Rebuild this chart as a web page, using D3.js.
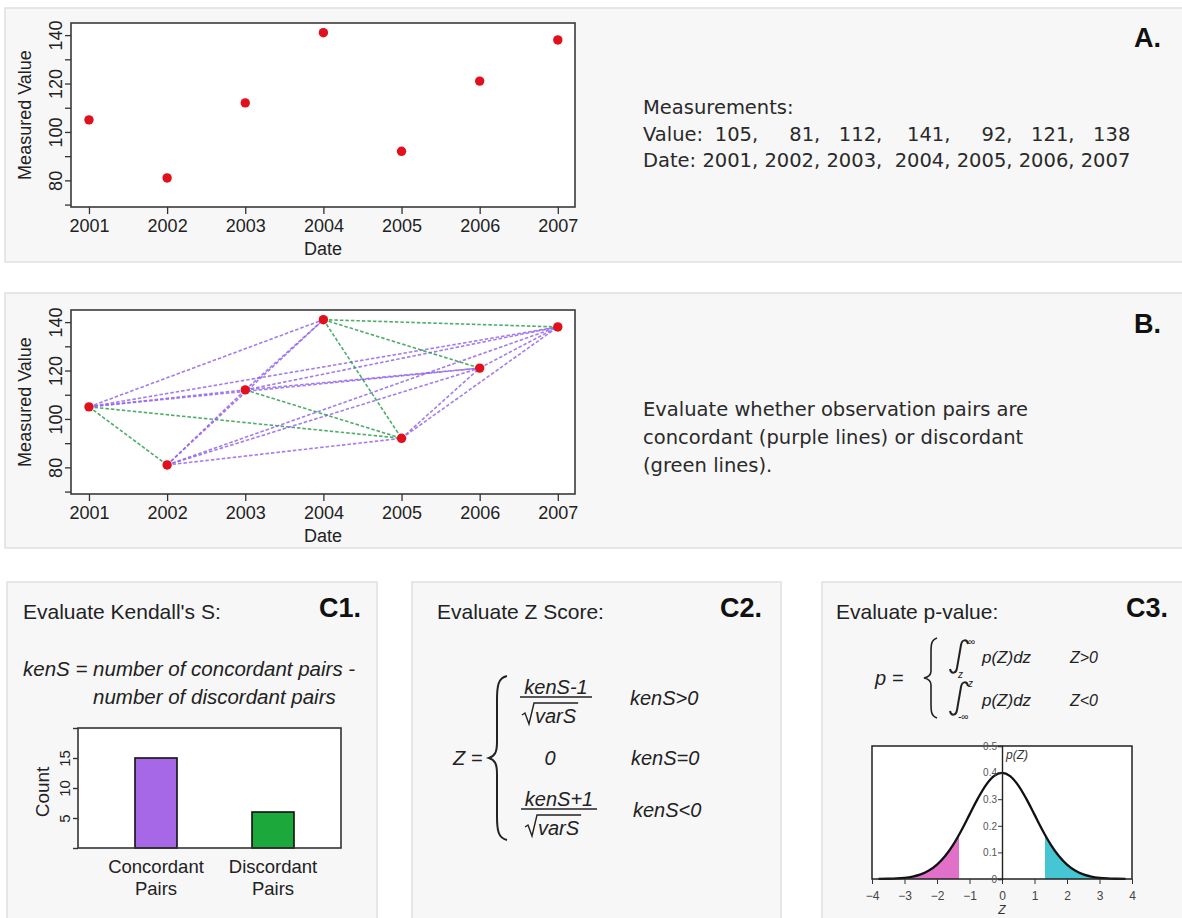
<!DOCTYPE html>
<html>
<head>
<meta charset="utf-8">
<script src="https://cdn.jsdelivr.net/npm/d3@7"></script>
<style>
  body { margin: 0; background: #fff; }
  svg { display: block; }
</style>
</head>
<body>
<svg id="fig" width="1182" height="918"></svg>
<script>
// ---- data ----
const years = [2001, 2002, 2003, 2004, 2005, 2006, 2007];
const values = [105, 81, 112, 141, 92, 121, 138];
const valueTicks = [70, 80, 90, 100, 110, 120, 130, 140];
const valueTickLabels = [80, 100, 120, 140];

const pairTypes = ["Concordant", "Discordant"];
const pairCounts = [15, 6];
const countTicks = [0, 5, 10, 15, 20];
const countTickLabels = [5, 10, 15];

// standard normal density, tabulated
const zGrid = [-3.8, -3.5, -3.25, -3, -2.75, -2.5, -2.25, -2, -1.75, -1.5, -1.25, -1, -0.75, -0.5, -0.25,
               0, 0.25, 0.5, 0.75, 1, 1.25, 1.5, 1.75, 2, 2.25, 2.5, 2.75, 3, 3.25, 3.5, 3.8];
const density = [0.0003, 0.0009, 0.0020, 0.0044, 0.0091, 0.0175, 0.0317, 0.0540, 0.0863, 0.1295, 0.1826, 0.2420, 0.3011, 0.3521, 0.3867,
                 0.3989, 0.3867, 0.3521, 0.3011, 0.2420, 0.1826, 0.1295, 0.0863, 0.0540, 0.0317, 0.0175, 0.0091, 0.0044, 0.0020, 0.0009, 0.0003];
const zTicks = [-4, -3, -2, -1, 0, 1, 2, 3, 4];
const densityTicks = [0, 0.1, 0.2, 0.3, 0.4, 0.5];
const zCritical = 1.32;

// ---- setup ----
const svg = d3.select("#fig");
const SANS = "'Liberation Sans', Arial, sans-serif";
const VERD = "'DejaVu Sans', Verdana, sans-serif";
const INK = "#222";

function panel(x, y, w, h) {
  svg.append("rect").attr("x", x).attr("y", y).attr("width", w).attr("height", h)
    .attr("fill", "#f7f7f7").attr("stroke", "#e0e0e0").attr("stroke-width", 1.5);
}
panel(5, 8, 1180, 254);
panel(5, 293, 1180, 255);
panel(7, 582, 370, 340);
panel(412, 582, 369, 340);
panel(822, 582, 365, 340);

function txt(g, x, y, s, opts = {}) {
  return g.append("text").attr("x", x).attr("y", y).text(s)
    .attr("font-family", opts.family || SANS)
    .attr("font-size", opts.size || 20)
    .attr("font-style", opts.italic ? "italic" : null)
    .attr("font-weight", opts.bold ? "bold" : null)
    .attr("text-anchor", opts.anchor || "start")
    .attr("fill", opts.fill || INK);
}

// ---- scatter plots (panels A and B) ----
function scatter(t, b, withPairs) {
  const box = { l: 71, r: 575, t, b };
  const x = d3.scaleLinear().domain([2000.77, 2007.22]).range([box.l, box.r]);
  const y = d3.scaleLinear().domain([69, 145]).range([box.b, box.t]);
  const g = svg.append("g");
  g.append("rect").attr("x", box.l).attr("y", box.t)
    .attr("width", box.r - box.l).attr("height", box.b - box.t).attr("fill", "#fff");

  const pts = years.map((yr, i) => ({ yr, v: values[i] }));
  if (withPairs) {
    const pairs = [];
    for (let i = 0; i < pts.length; i++)
      for (let j = i + 1; j < pts.length; j++)
        pairs.push({ a: pts[i], b: pts[j], concordant: pts[j].v > pts[i].v });
    g.selectAll("line.pair").data(pairs).join("line")
      .attr("x1", d => x(d.a.yr)).attr("y1", d => y(d.a.v))
      .attr("x2", d => x(d.b.yr)).attr("y2", d => y(d.b.v))
      .attr("stroke", d => d.concordant ? "#9466ee" : "#2f9f52")
      .attr("stroke-width", 1.6)
      .attr("stroke-dasharray", "3.5,2")
      .attr("opacity", 0.85);
  }
  g.selectAll("circle").data(pts).join("circle")
    .attr("cx", d => x(d.yr)).attr("cy", d => y(d.v)).attr("r", 4.7)
    .attr("fill", "#e0101c");

  g.append("rect").attr("x", box.l).attr("y", box.t)
    .attr("width", box.r - box.l).attr("height", box.b - box.t)
    .attr("fill", "none").attr("stroke", "#3a3a3a").attr("stroke-width", 1.6);

  const xa = g.append("g").attr("transform", `translate(0,${box.b})`)
    .call(d3.axisBottom(x).tickValues(years).tickSize(7).tickFormat(d3.format("d")));
  xa.select(".domain").remove();
  xa.selectAll("line").attr("stroke", "#333").attr("stroke-width", 1.3);
  xa.selectAll("text").attr("y", 25).attr("dy", 0)
    .attr("font-family", SANS).attr("font-size", 18).attr("fill", INK);

  const ya = g.append("g").attr("transform", `translate(${box.l},0)`)
    .call(d3.axisLeft(y).tickValues(valueTicks).tickSize(6)
      .tickFormat(d => valueTickLabels.includes(d) ? d : ""));
  ya.select(".domain").remove();
  ya.selectAll("line").attr("stroke", "#333").attr("stroke-width", 1.3);
  ya.selectAll("text").attr("x", 0).attr("y", 0).attr("dy", 0)
    .attr("transform", "translate(-9,0) rotate(-90)")
    .attr("text-anchor", "middle")
    .attr("font-family", SANS).attr("font-size", 18).attr("fill", INK);

  txt(g, (box.l + box.r) / 2, box.b + 48, "Date", { size: 18, anchor: "middle" });
  txt(g, 0, 0, "Measured Value", { size: 18, anchor: "middle" })
    .attr("transform", `translate(31,${(box.t + box.b) / 2}) rotate(-90)`);
}
scatter(23, 207, false);
scatter(310, 494, true);

// ---- panel A text ----
const gA = svg.append("g");
txt(gA, 1161, 47, "A.", { size: 27, bold: true, anchor: "end", fill: "#111" });
const TS = 19.5;
txt(gA, 643, 114, "Measurements:", { family: VERD, size: TS, fill: "#2a2a2a" });
let dateStr = "Date: ";
const yearEnds = [];
years.forEach((yr, i) => {
  if (i > 0) dateStr += (i === 3 ? "  " : " ");
  dateStr += yr + (i < years.length - 1 ? "," : "");
  yearEnds.push(dateStr.length - 1);
});
const dateText = txt(gA, 643, 167, dateStr, { family: VERD, size: TS, fill: "#2a2a2a" })
  .attr("xml:space", "preserve").style("white-space", "pre");
txt(gA, 643, 140.5, "Value:", { family: VERD, size: TS, fill: "#2a2a2a" });
const dn = dateText.node();
values.forEach((v, i) => {
  const end = dn.getEndPositionOfChar(yearEnds[i]).x;
  txt(gA, end, 140.5, v + (i < values.length - 1 ? "," : ""),
      { family: VERD, size: TS, anchor: "end", fill: "#2a2a2a" });
});

// ---- panel B text ----
const gB = svg.append("g");
txt(gB, 1161, 333, "B.", { size: 27, bold: true, anchor: "end", fill: "#111" });
["Evaluate whether observation pairs are",
 "concordant (purple lines) or discordant",
 "(green lines)."].forEach((s, i) =>
  txt(gB, 643, 416 + i * 28, s, { family: VERD, size: TS, fill: "#2a2a2a" }));

// ---- panel C1: Kendall's S ----
const g1 = svg.append("g");
txt(g1, 23, 619, "Evaluate Kendall's S:", { size: 21 });
txt(g1, 361, 617, "C1.", { size: 27, bold: true, anchor: "end", fill: "#111" });
txt(g1, 23, 676, "kenS = number of concordant pairs -", { size: 20.5, italic: true });
txt(g1, 93, 704, "number of discordant pairs", { size: 20.5, italic: true });

const bBox = { l: 78, r: 341, t: 728, b: 848 };
const cy = d3.scaleLinear().domain([0, 20]).range([bBox.b, bBox.t]);
const cx = d3.scalePoint().domain(pairTypes).range([156, 273]);
const barW = 42;
g1.append("rect").attr("x", bBox.l).attr("y", bBox.t)
  .attr("width", bBox.r - bBox.l).attr("height", bBox.b - bBox.t).attr("fill", "#fff");
g1.selectAll("rect.bar").data(pairTypes).join("rect").attr("class", "bar")
  .attr("x", d => cx(d) - barW / 2).attr("width", barW)
  .attr("y", (d, i) => cy(pairCounts[i])).attr("height", (d, i) => cy(0) - cy(pairCounts[i]))
  .attr("fill", (d, i) => i === 0 ? "#a768e8" : "#1ca83a")
  .attr("stroke", "#111").attr("stroke-width", 1.6);
g1.append("rect").attr("x", bBox.l).attr("y", bBox.t)
  .attr("width", bBox.r - bBox.l).attr("height", bBox.b - bBox.t)
  .attr("fill", "none").attr("stroke", "#333").attr("stroke-width", 1.6);
const ca = g1.append("g").attr("transform", `translate(${bBox.l},0)`)
  .call(d3.axisLeft(cy).tickValues(countTicks).tickSize(5)
    .tickFormat(d => countTickLabels.includes(d) ? d : ""));
ca.select(".domain").remove();
ca.selectAll("line").attr("stroke", "#333").attr("stroke-width", 1.4);
ca.selectAll("text").attr("x", 0).attr("y", 0).attr("dy", 0)
  .attr("transform", "translate(-8,0) rotate(-90)").attr("text-anchor", "middle")
  .attr("font-family", SANS).attr("font-size", 15).attr("fill", INK);
txt(g1, 0, 0, "Count", { size: 19, anchor: "middle" })
  .attr("transform", `translate(49,${(bBox.t + bBox.b) / 2 + 4}) rotate(-90)`);
pairTypes.forEach(p => {
  txt(g1, cx(p), 873, p, { size: 18.5, anchor: "middle" });
  txt(g1, cx(p), 895, "Pairs", { size: 18.5, anchor: "middle" });
});

// ---- panel C2: Z score ----
const g2 = svg.append("g");
txt(g2, 437, 619, "Evaluate Z Score:", { size: 21 });
txt(g2, 762, 617, "C2.", { size: 27, bold: true, anchor: "end", fill: "#111" });
txt(g2, 453, 765, "Z =", { size: 20, italic: true });
g2.append("path")
  .attr("d", "M507,676 C498,678 497,686 497,700 L497,742 C497,752 495,756 489,758 C495,760 497,764 497,774 L497,816 C497,830 498,838 507,840")
  .attr("fill", "none").attr("stroke", "#222").attr("stroke-width", 2);

function radicalFrac(num, cxm, lineY, denBase, lineW) {
  txt(g2, cxm, lineY - 3, num, { size: 20, italic: true, anchor: "middle" });
  g2.append("line").attr("x1", cxm - lineW / 2).attr("x2", cxm + lineW / 2)
    .attr("y1", lineY).attr("y2", lineY).attr("stroke", "#222").attr("stroke-width", 1.6);
  const x0 = cxm - 34;
  const t = txt(g2, x0 + 13, denBase, "varS", { size: 20, italic: true });
  const w = t.node().getComputedTextLength();
  g2.append("path")
    .attr("d", `M${x0},${denBase - 8} L${x0 + 3},${denBase - 10} L${x0 + 7},${denBase + 1} L${x0 + 12},${denBase - 20} L${x0 + 15 + w},${denBase - 20}`)
    .attr("fill", "none").attr("stroke", "#222").attr("stroke-width", 1.4);
}
radicalFrac("kenS-1", 556, 697, 723, 72);
txt(g2, 630, 705, "kenS>0", { size: 20, italic: true });
txt(g2, 550, 765, "0", { size: 20, italic: true, anchor: "middle" });
txt(g2, 631, 765, "kenS=0", { size: 20, italic: true });
radicalFrac("kenS+1", 559, 809, 835, 76);
txt(g2, 633, 817, "kenS<0", { size: 20, italic: true });

// ---- panel C3: p-value ----
const g3 = svg.append("g");
txt(g3, 836, 619, "Evaluate p-value:", { size: 21 });
txt(g3, 1168, 617, "C3.", { size: 27, bold: true, anchor: "end", fill: "#111" });
txt(g3, 875, 685, "p =", { size: 20, italic: true });
g3.append("path")
  .attr("d", "M937,638 C931,640 931,645 931,653 L931,671 C931,675 929,677 924,678 C929,679 931,681 931,685 L931,703 C931,711 931,716 937,718")
  .attr("fill", "none").attr("stroke", "#222").attr("stroke-width", 1.6);
function integral(top, bot, upper, lower, baseY, cond) {
  g3.append("path")
    .attr("d", `M968,${top + 3} C967,${top - 2} 962,${top - 2} 961,${top + 4} L957,${bot - 4} C956,${bot + 2} 951,${bot + 2} 950,${bot - 3}`)
    .attr("fill", "none").attr("stroke", "#222").attr("stroke-width", 2);
  txt(g3, 968, top + 4, upper, { size: 10, italic: true });
  txt(g3, 958, bot + 6, lower, { size: 10, italic: true });
  txt(g3, 982, baseY, "p(Z)dz", { size: 17, italic: true });
  txt(g3, 1070, baseY, cond, { size: 16, italic: true });
}
integral(641, 672, "\u221E", "z", 663, "Z>0");
integral(683, 714, "z", "-\u221E", 706, "Z<0");

const zx = d3.scaleLinear().domain([-4, 4]).range([872, 1132]);
const zy = d3.scaleLinear().domain([0, 0.5]).range([879, 746]);
g3.append("rect").attr("x", zx(-4)).attr("y", zy(0.5))
  .attr("width", zx(4) - zx(-4)).attr("height", zy(0) - zy(0.5)).attr("fill", "#fff");
const curveData = zGrid.map((z, i) => ({ z, p: density[i] }));
const area = d3.area().x(d => zx(d.z)).y0(zy(0)).y1(d => zy(d.p)).curve(d3.curveMonotoneX);
const line = d3.line().x(d => zx(d.z)).y(d => zy(d.p)).curve(d3.curveMonotoneX);
const defs = svg.append("defs");
defs.append("clipPath").attr("id", "lowTail").append("rect")
  .attr("x", zx(-4)).attr("y", zy(0.5)).attr("width", zx(-zCritical) - zx(-4)).attr("height", zy(0) - zy(0.5));
defs.append("clipPath").attr("id", "highTail").append("rect")
  .attr("x", zx(zCritical)).attr("y", zy(0.5)).attr("width", zx(4) - zx(zCritical)).attr("height", zy(0) - zy(0.5));
g3.append("path").datum(curveData).attr("d", area).attr("fill", "#e070c8").attr("clip-path", "url(#lowTail)");
g3.append("path").datum(curveData).attr("d", area).attr("fill", "#45c6d2").attr("clip-path", "url(#highTail)");
g3.append("path").datum(curveData).attr("d", line)
  .attr("fill", "none").attr("stroke", "#111").attr("stroke-width", 2.3);
g3.append("rect").attr("x", zx(-4)).attr("y", zy(0.5))
  .attr("width", zx(4) - zx(-4)).attr("height", zy(0) - zy(0.5))
  .attr("fill", "none").attr("stroke", "#222").attr("stroke-width", 1.5);

const zxa = g3.append("g").attr("transform", `translate(0,${zy(0)})`)
  .call(d3.axisBottom(zx).tickValues(zTicks).tickSize(5).tickFormat(d3.format("d")));
zxa.select(".domain").remove();
zxa.selectAll("line").attr("stroke", "#333");
zxa.selectAll("text").attr("y", 21).attr("dy", 0)
  .attr("font-family", SANS).attr("font-size", 12).attr("fill", "#444");
const zya = g3.append("g").attr("transform", `translate(${zx(0)},0)`)
  .call(d3.axisLeft(zy).tickValues(densityTicks).tickSize(4).tickFormat(d => d));
zya.select(".domain").attr("stroke", "#222").attr("stroke-width", 1.4);
zya.selectAll("line").attr("stroke", "#333");
zya.selectAll("text").attr("x", -5)
  .attr("font-family", SANS).attr("font-size", 10).attr("fill", "#555");
txt(g3, zx(0), 914, "Z", { size: 12, italic: true, anchor: "middle", fill: "#333" });
txt(g3, zx(0) + 4, 759, "p(Z)", { size: 12, italic: true, fill: "#333" });
</script>
</body>
</html>
